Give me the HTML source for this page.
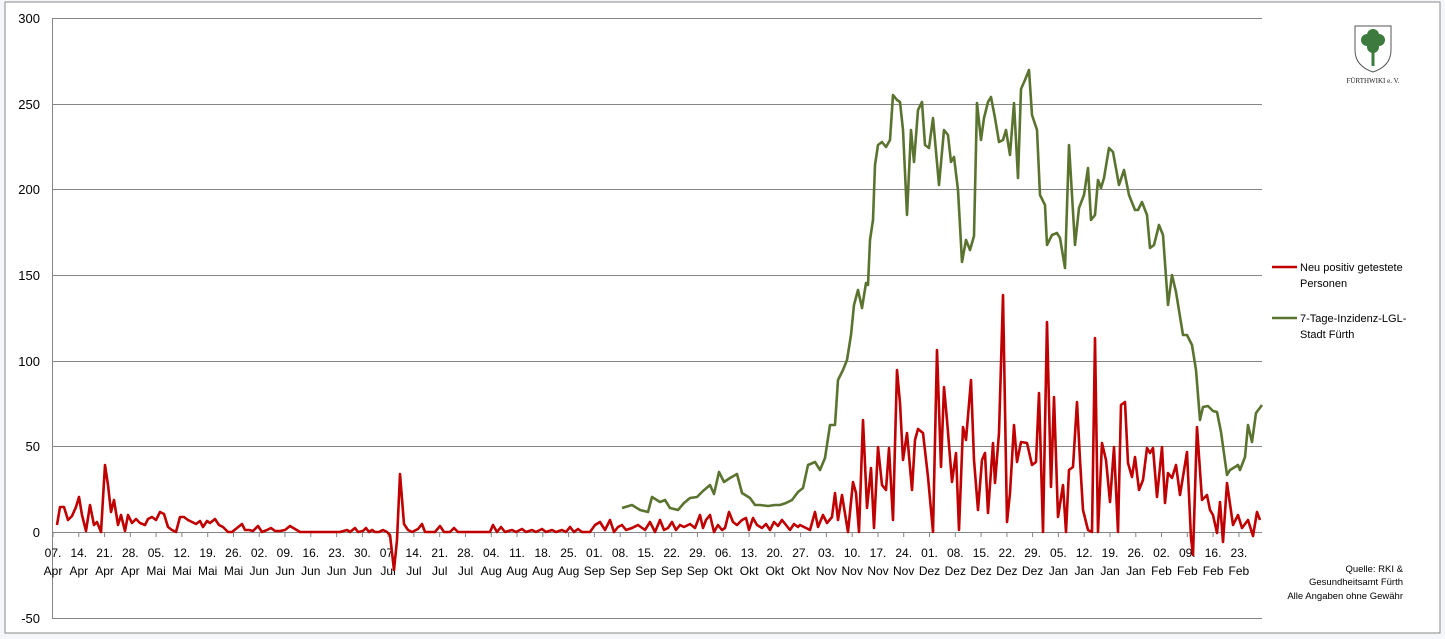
<!DOCTYPE html>
<html><head><meta charset="utf-8"><style>
html,body{margin:0;padding:0;background:#fff;}
svg{display:block;font-family:"Liberation Sans",sans-serif;}
</style></head><body>
<svg width="1445" height="639" viewBox="0 0 1445 639" xmlns="http://www.w3.org/2000/svg">
<rect x="0" y="0" width="1445" height="639" fill="#f4f6f9"/>
<rect x="5" y="2" width="1435" height="631" fill="#fff" stroke="#8a8a8a" stroke-width="1"/>
<g stroke="#868686" stroke-width="1">
<line x1="52" y1="18.5" x2="1262" y2="18.5"/>
<line x1="52" y1="104.5" x2="1262" y2="104.5"/>
<line x1="52" y1="189.5" x2="1262" y2="189.5"/>
<line x1="52" y1="275.5" x2="1262" y2="275.5"/>
<line x1="52" y1="361.5" x2="1262" y2="361.5"/>
<line x1="52" y1="446.5" x2="1262" y2="446.5"/>
<line x1="52" y1="532.5" x2="1262" y2="532.5"/>
<line x1="52" y1="618.5" x2="1262" y2="618.5"/>
<line x1="52.5" y1="18" x2="52.5" y2="618"/>
<path d="M53,532V537M78.8,532V537M104.6,532V537M130.3,532V537M156.1,532V537M181.9,532V537M207.7,532V537M233.5,532V537M259.2,532V537M285,532V537M310.8,532V537M336.6,532V537M362.4,532V537M388.1,532V537M413.9,532V537M439.7,532V537M465.5,532V537M491.3,532V537M517,532V537M542.8,532V537M568.6,532V537M594.4,532V537M620.2,532V537M645.9,532V537M671.7,532V537M697.5,532V537M723.3,532V537M749.1,532V537M774.8,532V537M800.6,532V537M826.4,532V537M852.2,532V537M878,532V537M903.7,532V537M929.5,532V537M955.3,532V537M981.1,532V537M1006.9,532V537M1032.6,532V537M1058.4,532V537M1084.2,532V537M1110,532V537M1135.8,532V537M1161.5,532V537M1187.3,532V537M1213.1,532V537M1238.9,532V537"/>
</g>
<g font-size="13" fill="#000" text-anchor="end">
<text x="40" y="23">300</text><text x="40" y="109">250</text><text x="40" y="194">200</text>
<text x="40" y="280">150</text><text x="40" y="366">100</text><text x="40" y="451">50</text>
<text x="40" y="537">0</text><text x="40" y="623">-50</text>
</g>
<g font-size="12" fill="#000" text-anchor="middle">
<text x="53" y="557">07.</text><text x="53" y="575">Apr</text>
<text x="78.8" y="557">14.</text><text x="78.8" y="575">Apr</text>
<text x="104.6" y="557">21.</text><text x="104.6" y="575">Apr</text>
<text x="130.3" y="557">28.</text><text x="130.3" y="575">Apr</text>
<text x="156.1" y="557">05.</text><text x="156.1" y="575">Mai</text>
<text x="181.9" y="557">12.</text><text x="181.9" y="575">Mai</text>
<text x="207.7" y="557">19.</text><text x="207.7" y="575">Mai</text>
<text x="233.5" y="557">26.</text><text x="233.5" y="575">Mai</text>
<text x="259.2" y="557">02.</text><text x="259.2" y="575">Jun</text>
<text x="285" y="557">09.</text><text x="285" y="575">Jun</text>
<text x="310.8" y="557">16.</text><text x="310.8" y="575">Jun</text>
<text x="336.6" y="557">23.</text><text x="336.6" y="575">Jun</text>
<text x="362.4" y="557">30.</text><text x="362.4" y="575">Jun</text>
<text x="388.1" y="557">07.</text><text x="388.1" y="575">Jul</text>
<text x="413.9" y="557">14.</text><text x="413.9" y="575">Jul</text>
<text x="439.7" y="557">21.</text><text x="439.7" y="575">Jul</text>
<text x="465.5" y="557">28.</text><text x="465.5" y="575">Jul</text>
<text x="491.3" y="557">04.</text><text x="491.3" y="575">Aug</text>
<text x="517" y="557">11.</text><text x="517" y="575">Aug</text>
<text x="542.8" y="557">18.</text><text x="542.8" y="575">Aug</text>
<text x="568.6" y="557">25.</text><text x="568.6" y="575">Aug</text>
<text x="594.4" y="557">01.</text><text x="594.4" y="575">Sep</text>
<text x="620.2" y="557">08.</text><text x="620.2" y="575">Sep</text>
<text x="645.9" y="557">15.</text><text x="645.9" y="575">Sep</text>
<text x="671.7" y="557">22.</text><text x="671.7" y="575">Sep</text>
<text x="697.5" y="557">29.</text><text x="697.5" y="575">Sep</text>
<text x="723.3" y="557">06.</text><text x="723.3" y="575">Okt</text>
<text x="749.1" y="557">13.</text><text x="749.1" y="575">Okt</text>
<text x="774.8" y="557">20.</text><text x="774.8" y="575">Okt</text>
<text x="800.6" y="557">27.</text><text x="800.6" y="575">Okt</text>
<text x="826.4" y="557">03.</text><text x="826.4" y="575">Nov</text>
<text x="852.2" y="557">10.</text><text x="852.2" y="575">Nov</text>
<text x="878" y="557">17.</text><text x="878" y="575">Nov</text>
<text x="903.7" y="557">24.</text><text x="903.7" y="575">Nov</text>
<text x="929.5" y="557">01.</text><text x="929.5" y="575">Dez</text>
<text x="955.3" y="557">08.</text><text x="955.3" y="575">Dez</text>
<text x="981.1" y="557">15.</text><text x="981.1" y="575">Dez</text>
<text x="1006.9" y="557">22.</text><text x="1006.9" y="575">Dez</text>
<text x="1032.6" y="557">29.</text><text x="1032.6" y="575">Dez</text>
<text x="1058.4" y="557">05.</text><text x="1058.4" y="575">Jan</text>
<text x="1084.2" y="557">12.</text><text x="1084.2" y="575">Jan</text>
<text x="1110" y="557">19.</text><text x="1110" y="575">Jan</text>
<text x="1135.8" y="557">26.</text><text x="1135.8" y="575">Jan</text>
<text x="1161.5" y="557">02.</text><text x="1161.5" y="575">Feb</text>
<text x="1187.3" y="557">09.</text><text x="1187.3" y="575">Feb</text>
<text x="1213.1" y="557">16.</text><text x="1213.1" y="575">Feb</text>
<text x="1238.9" y="557">23.</text><text x="1238.9" y="575">Feb</text>
</g>
<polyline fill="none" stroke="#5a7430" stroke-width="2.6" stroke-linejoin="round" points="622,508 632,505 640,510 648,512 652,497 660,502 665,500 670,508 678,510 684,503 690,498 697,497 703,491 710,485 714,494 719,472 724,482 730,478 737,474 742,493 750,498 755,505 760,505 768,506 775,505 780,505 786,503 792,500 798,492 803,488 808,465 815,462 820,470 825,458 830,425 835,425 838,380 843,370 847,360 851,335 854,305 858,290 862,308 866,283 868,285 870,240 873,220 875,165 878,145 882,142 886,147 890,140 893,95 897,100 900,102 903,130 907,215 911,130 914,162 918,110 922,102 925,145 929,148 933,118 939,185 944,130 948,135 951,162 954,157 958,190 962,262 966,240 970,250 974,236 977,103 981,140 984,118 988,102 991,97 995,118 999,142 1003,140 1006,130 1010,155 1014,103 1018,178 1021,89 1025,80 1029,70 1032,115 1037,130 1040,195 1045,205 1047,245 1052,235 1057,233 1060,238 1065,268 1069,145 1075,245 1079,208 1084,195 1088,168 1091,220 1095,215 1098,180 1101,188 1104,178 1109,148 1113,152 1119,185 1124,170 1129,195 1135,210 1138,210 1142,202 1147,215 1150,248 1154,245 1159,225 1163,235 1168,305 1172,275 1176,292 1183,335 1187,335 1192,345 1196,370 1200,420 1203,407 1208,406 1213,411 1217,412 1221,432 1227,475 1230,470 1235,467 1238,465 1240,470 1245,457 1248,425 1252,442 1256,413 1262,405"/>
<polyline fill="none" stroke="#c00000" stroke-width="2.6" stroke-linejoin="round" points="57,525 60,507 64,507 68,520 72,516 76,507 79,497 82,515 86,531 90,505 94,525 97,522 101,532 105,465 108,485 111,512 114,500 118,525 121,515 125,531 128,515 132,523 136,519 140,523 145,525 148,519 152,517 156,520 160,512 164,514 168,527 172,530 176,532 180,517 184,517 188,520 192,522 196,524 200,521 203,527 207,521 210,523 215,519 219,525 223,527 228,532 232,532 237,528 242,524 245,530 249,530 253,531 258,526 262,532 267,530 271,528 275,531 280,531 285,530 290,526 295,529 300,532 340,532 347,530 350,532 355,528 358,532 363,531 366,528 369,532 372,530 375,532 379,532 383,530 387,532 390,535 394,570 397,540 400,474 404,524 408,530 412,532 418,529 422,524 425,532 435,532 440,526 444,532 450,532 454,528 458,532 490,532 493,525 497,532 501,527 505,532 512,530 516,532 522,529 526,532 532,530 536,532 542,529 546,532 552,530 556,532 562,530 566,532 570,527 574,532 578,529 582,532 590,532 595,525 600,522 605,530 610,520 614,532 618,527 622,525 626,530 632,528 638,525 645,530 650,522 655,532 660,520 664,530 668,528 672,522 676,530 680,525 684,527 690,524 695,528 700,515 703,528 706,520 710,515 714,532 718,525 722,530 725,528 729,512 733,522 737,525 742,520 746,518 749,530 753,518 757,525 762,528 766,524 770,530 774,522 778,526 782,520 786,525 790,530 794,524 798,527 800,525 810,530 815,512 818,527 823,515 827,523 832,517 835,493 838,520 842,495 848,532 853,482 856,493 859,532 863,420 867,508 871,468 874,528 878,447 882,485 886,490 889,448 893,520 897,370 900,403 903,460 907,433 912,490 915,440 918,429 923,433 928,477 933,532 937,350 941,467 944,387 947,420 952,482 956,453 959,530 963,427 966,440 971,380 974,460 978,510 982,460 985,453 988,513 993,443 995,483 999,433 1003,295 1007,522 1010,493 1014,425 1017,462 1021,442 1027,443 1032,465 1036,462 1039,393 1043,532 1047,322 1051,487 1054,397 1058,517 1063,485 1066,532 1069,470 1073,467 1077,402 1080,460 1083,510 1088,530 1092,532 1095,338 1098,532 1102,443 1106,460 1110,502 1114,447 1118,532 1121,405 1125,402 1128,463 1132,477 1135,457 1139,490 1143,480 1147,448 1150,453 1153,448 1157,497 1162,447 1165,503 1168,473 1172,478 1176,465 1180,495 1187,452 1191,538 1193,555 1197,427 1202,500 1207,495 1210,510 1213,515 1217,533 1220,502 1223,542 1227,483 1233,525 1238,515 1242,528 1248,520 1253,536 1257,512 1260,520"/>
<line x1="1272" y1="267" x2="1297" y2="267" stroke="#c00000" stroke-width="2.5"/>
<line x1="1272" y1="318" x2="1297" y2="318" stroke="#5a7430" stroke-width="2.5"/>
<g font-size="11" fill="#000">
<text x="1300" y="271">Neu positiv getestete</text><text x="1300" y="287">Personen</text>
<text x="1300" y="322">7-Tage-Inzidenz-LGL-</text><text x="1300" y="338">Stadt Fürth</text>
</g>
<g font-size="9.5" fill="#000" text-anchor="end">
<text x="1403" y="572">Quelle: RKI &amp;</text>
<text x="1403" y="585">Gesundheitsamt Fürth</text>
<text x="1403" y="599">Alle Angaben ohne Gewähr</text>
</g>
<g transform="translate(1355,26)">
<path d="M0,0 L36,0 L36,24 Q36,40 18,46 Q0,40 0,24 Z" fill="#fff" stroke="#555" stroke-width="1"/>
<circle cx="12" cy="14" r="6" fill="#3d7a3d"/><circle cx="24" cy="14" r="6" fill="#3d7a3d"/><circle cx="18" cy="9" r="6" fill="#3d7a3d"/><circle cx="18" cy="21" r="6" fill="#3d7a3d"/>
<line x1="18" y1="14" x2="18" y2="40" stroke="#3d7a3d" stroke-width="3"/>
</g>
<text x="1373" y="83" font-size="7" font-family="Liberation Serif,serif" text-anchor="middle" fill="#222">FÜRTHWIKI e. V.</text>
</svg>
</body></html>
